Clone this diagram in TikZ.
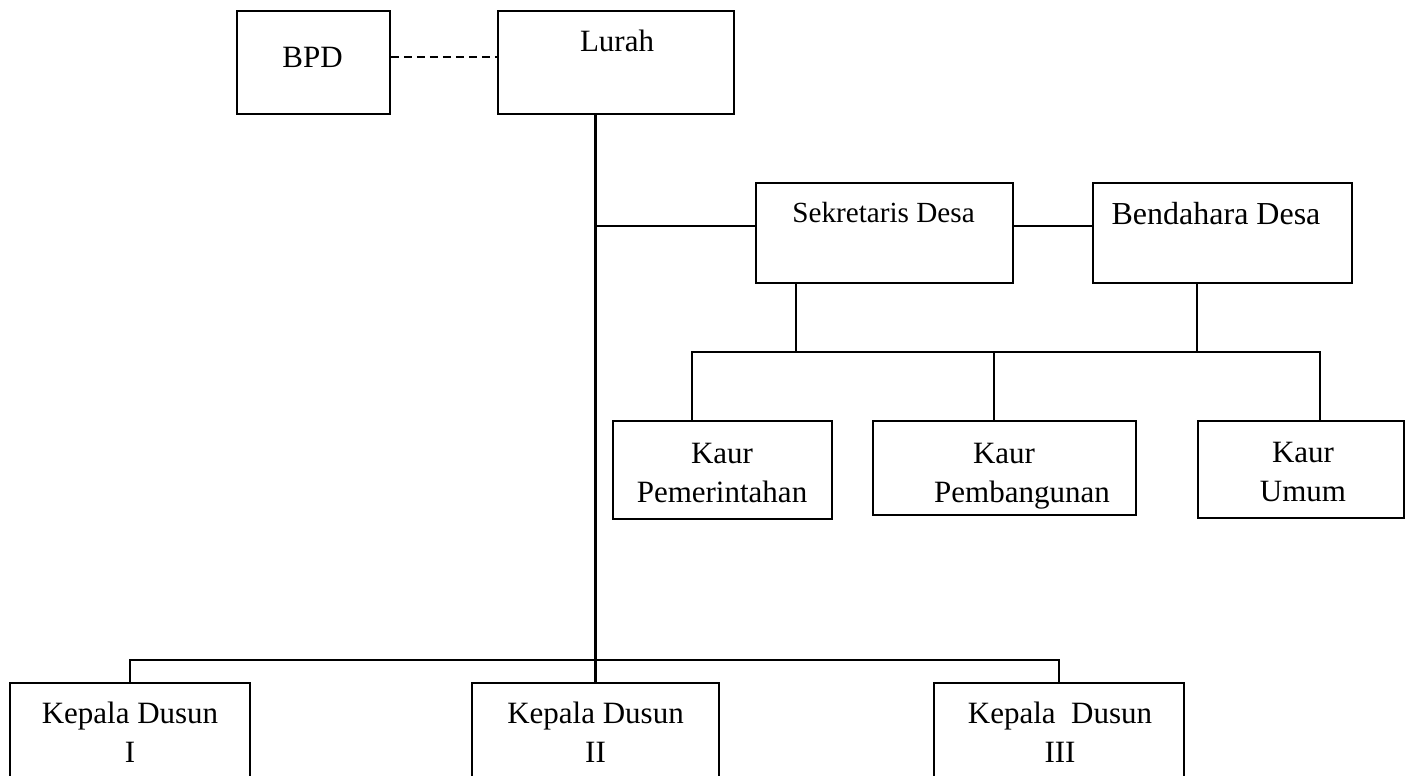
\documentclass[tikz,border=0pt]{standalone}
\usepackage{fontspec}
\setmainfont{Liberation Serif}
\usetikzlibrary{calc}
\begin{document}
\begin{tikzpicture}
        [x=0.5pt, y=-0.5pt,
        office/.style 2 args={draw, line width=0.8pt, inner sep=0pt, minimum width=#1*0.5pt, minimum height=#2*0.5pt},
        boxtext/.style={font=\fontsize{15.5}{19.5}\selectfont, align=center, inner sep=0pt, anchor=base},
        link/.style={line width=0.8pt, black},
        trunk/.style={line width=1.1pt, black},
        dashlink/.style={line width=0.8pt, black, dash pattern=on 4pt off 2.5pt}]

        \useasboundingbox (0,0) rectangle (1411,775);

        % boxes
        \node[office={153}{103}] (bpd) at (313.5,62.5) {};
        \node[office={236}{103}] (lurah) at (616,62.5) {};
        \node[office={257}{100}] (sekdes) at (884.5,233) {};
        \node[office={259}{100}] (bendes) at (1222.5,233) {};
        \node[office={219}{98}] (kpem) at (722.5,470) {};
        \node[office={263}{94}] (kpemb) at (1004.5,468) {};
        \node[office={206}{97}] (kumum) at (1301,469.5) {};
        \node[office={240}{117}] (kd1) at (130,741.5) {};
        \node[office={247}{117}] (kd2) at (595.5,741.5) {};
        \node[office={250}{117}] (kd3) at (1059,741.5) {};

        % texts in the boxes (base = last line)
        \node[boxtext] (bpdtext) at (312.5,68) {BPD};
        \node[boxtext] (lurahtext) at (617,52) {Lurah};
        \node[boxtext, font=\fontsize{14.6}{19}\selectfont] (sekdestext) at (883.5,222) {Sekretaris Desa};
        \node[boxtext, font=\fontsize{16}{19}\selectfont] (bendestext) at (1216,224) {Bendahara Desa};
        \node[boxtext] (kpemtext) at (722,502) {Kaur\\Pemerintahan};
        \node[boxtext] (kpembtext) at (1004,502) {Kaur\\\hspace*{18pt}Pembangunan};
        \node[boxtext] (kumumtext) at (1303,501) {Kaur\\Umum};
        \node[boxtext] (kd1text) at (130,762) {Kepala Dusun\\I};
        \node[boxtext] (kd2text) at (595.5,762) {Kepala Dusun\\II};
        \node[boxtext] (kd3text) at (1060,762) {Kepala\ \ Dusun\\III};

        % dashed line BPD - Lurah
        \draw[dashlink] ($(bpd.north east)!.45!(bpd.south east)$) coordinate (d) -- (d -| lurah.west);

        % main line from Lurah down
        \draw[trunk] (lurah.south -| kd2.north) -- (kd2.north);

        % Sekretaris and Bendahara
        \coordinate (arm) at (0,226);
        \draw[link] (kd2.north |- arm) -- (sekdes.west |- arm);
        \draw[link] (sekdes.east |- arm) -- (bendes.west |- arm);

        % the three Kaur
        \coordinate (kbus) at (0,352);
        \draw[link] ([xshift=20.5pt]sekdes.south west) coordinate (s) -- (s |- kbus);
        \draw[link] ([xshift=52.5pt]bendes.south west) coordinate (b) -- (b |- kbus);
        \coordinate (k1) at ([xshift=40pt]kpem.north west);
        \coordinate (k2) at ([xshift=61pt]kpemb.north west);
        \coordinate (k3) at ([xshift=61.5pt]kumum.north west);
        \draw[link] (k1) -- (k1 |- kbus) -- (k3 |- kbus) -- (k3);
        \draw[link] (k2) -- (k2 |- kbus);

        % Kepala Dusun
        \coordinate (dbus) at (0,660);
        \draw[link] (kd1.north) -- (kd1.north |- dbus) -- (kd3.north |- dbus) -- (kd3.north);

\end{tikzpicture}
\end{document}
